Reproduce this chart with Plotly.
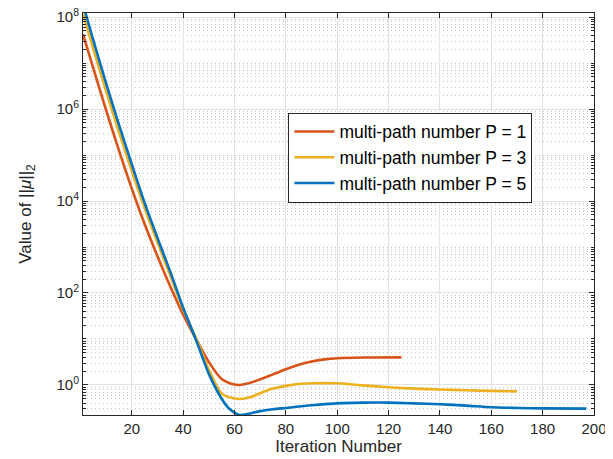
import plotly.graph_objects as go

# Iteration numbers and values of ||mu||_2
iter_p1 = [1, 5, 10, 15, 20, 25, 30, 35, 40, 45, 50, 55, 60, 62, 65, 70, 75, 80, 85, 90, 95, 100, 110, 125]
val_p1 = [4.27e7, 7.76e6, 9.55e5, 1.26e5, 1.86e4, 3.16e3, 631, 138, 33.9, 10.0, 3.16, 1.35, 1.02, 1.00,
          1.07, 1.32, 1.70, 2.19, 2.75, 3.24, 3.59, 3.80, 3.94, 3.98]

iter_p3 = [1, 5, 10, 15, 20, 25, 30, 35, 40, 45, 50, 55, 58, 62, 66, 70, 75, 80, 85, 90, 95, 100, 105,
           110, 120, 130, 140, 150, 160, 170]
val_p3 = [1.175e8, 2.04e7, 2.45e6, 3.16e5, 4.47e4, 7.08e3, 1.26e3, 240, 43.7, 10.5, 2.14, 0.646, 0.537,
          0.495, 0.537, 0.661, 0.832, 0.955, 1.047, 1.084, 1.096, 1.084, 1.035, 0.977, 0.891, 0.832,
          0.794, 0.767, 0.741, 0.724]

iter_p5 = [1, 5, 10, 15, 20, 25, 30, 35, 40, 45, 50, 55, 58, 62, 66, 70, 75, 80, 90, 100, 110, 120,
           130, 140, 150, 160, 170, 180, 197]
val_p5 = [1.91e8, 3.16e7, 3.63e6, 4.57e5, 6.31e4, 9.12e3, 1.58e3, 288, 47.9, 9.55, 1.74, 0.501, 0.302,
          0.222, 0.240, 0.269, 0.295, 0.316, 0.363, 0.398, 0.412, 0.413, 0.398, 0.380, 0.355, 0.327,
          0.316, 0.309, 0.306]

series_names = ["multi-path number P = 1", "multi-path number P = 3", "multi-path number P = 5"]
series_colors = ["#D95319", "#EDB120", "#0072BD"]

x_ticks = [20, 40, 60, 80, 100, 120, 140, 160, 180, 200]
y_ticks = [1e0, 1e2, 1e4, 1e6, 1e8]
y_ticktext = ["10<sup>0</sup>", "10<sup>2</sup>", "10<sup>4</sup>", "10<sup>6</sup>", "10<sup>8</sup>"]

minor_y = []
for e in range(-1, 9):
    for k in range(1, 10):
        if k == 1 and e % 2 == 0:
            continue
        minor_y.append(k * 10.0 ** e)

fig = go.Figure()
for xs, ys, name, col in zip([iter_p1, iter_p3, iter_p5], [val_p1, val_p3, val_p5], series_names, series_colors):
    fig.add_trace(go.Scatter(x=xs, y=ys, mode="lines", name=name,
                             line=dict(color=col, width=2.6, shape="spline", smoothing=0.8)))

font_fam = "Liberation Sans, Arial, sans-serif"
axis_col = "#262626"

fig.update_layout(
    width=613, height=459,
    margin=dict(l=75, r=27, t=5, b=52),
    paper_bgcolor="white", plot_bgcolor="white",
    font=dict(family=font_fam, size=14, color=axis_col),
    showlegend=True,
    legend=dict(x=0.402, y=0.752, xanchor="left", yanchor="top",
                bordercolor="#262626", borderwidth=1, bgcolor="white",
                font=dict(size=17.5, color="black"), tracegroupgap=0,
                itemwidth=40),
)

fig.update_xaxes(
    range=[1, 200], tickvals=x_ticks, ticks="inside", ticklen=5, tickcolor=axis_col,
    showline=True, linecolor=axis_col, linewidth=1, mirror="ticks", automargin=False,
    showgrid=True, gridcolor="#e3e3e3", gridwidth=1, zeroline=False,
    title=dict(text="Iteration Number", font=dict(size=17, color=axis_col), standoff=2),
    tickfont=dict(size=15, color=axis_col),
)

fig.update_yaxes(
    type="log", range=[-0.654, 8.09], tickvals=y_ticks, ticktext=y_ticktext,
    ticks="inside", ticklen=5, tickcolor=axis_col, automargin=False,
    showline=True, linecolor=axis_col, linewidth=1, mirror="ticks",
    showgrid=True, gridcolor="#e3e3e3", gridwidth=1, zeroline=False,
    ticklabeloverflow="allow",
    minor=dict(tickvals=minor_y, ticks="inside", ticklen=3, tickcolor=axis_col,
               showgrid=True, gridcolor="#c8c8c8", griddash="1px,3px", gridwidth=1),
    title=dict(text="Value of ||<i>μ</i>||<sub>2</sub>", font=dict(size=17, color=axis_col), standoff=20),
    tickfont=dict(size=15, color=axis_col),
)

fig.write_html("out.html")
